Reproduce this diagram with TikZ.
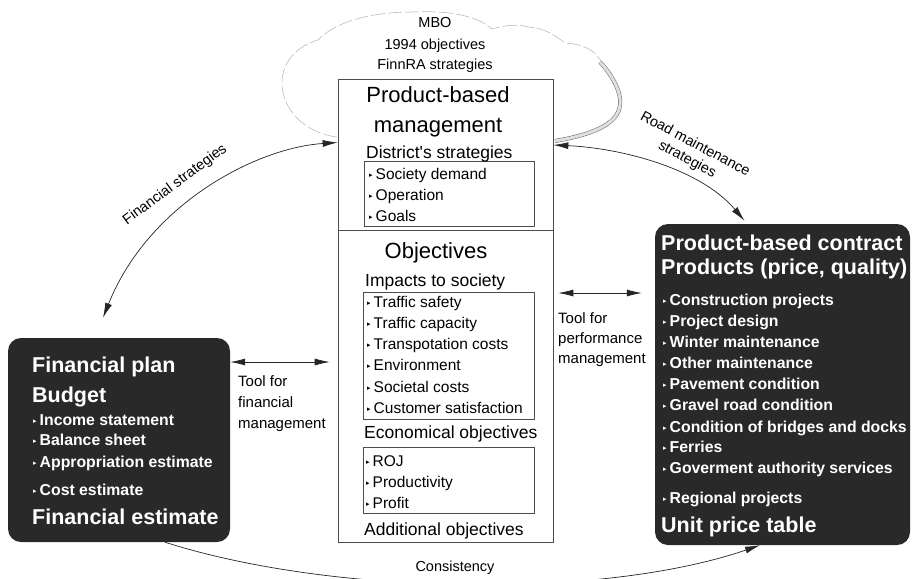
\documentclass[tikz,border=0pt]{standalone}
\usepackage{fontspec}
\setmainfont{Liberation Sans}
\newfontfamily\symfont{DejaVu Sans}
\usetikzlibrary{arrows.meta}

% small triangle in front of each list entry
\newcommand{\bulletmark}{{\symfont\fontsize{7}{7}\selectfont\raisebox{1.2pt}{▸}}\hspace{3pt}}

\begin{document}
\begin{tikzpicture}[x=1pt,y=-1pt,
  panel/.style={draw=black!70,line width=0.7pt,fill=white,inner sep=0pt},
  listbox/.style={draw=black!70,line width=0.6pt,inner sep=0pt},
  darkbox/.style={fill=black!84,rounded corners=13pt,inner sep=0pt},
  title/.style={font=\fontsize{22}{24}\selectfont,anchor=base,inner sep=0pt},
  subhead/.style={font=\fontsize{17.5}{20}\selectfont,anchor=base west,inner sep=0pt},
  entry/.style={font=\fontsize{15.5}{18}\selectfont,anchor=base west,inner sep=0pt},
  darktitle/.style={font=\bfseries\fontsize{21.5}{24}\selectfont,text=white,anchor=base west,inner sep=0pt},
  darkentry/.style={font=\bfseries\fontsize{15.8}{18}\selectfont,text=white,anchor=base west,inner sep=0pt},
  note/.style={font=\fontsize{15}{18}\selectfont,anchor=base west,inner sep=0pt},
  tag/.style={font=\fontsize{14.5}{17}\selectfont,inner sep=0pt},
  link/.style={line width=0.7pt,black!85},
  twoway/.style={link,{Latex[length=15pt,width=7pt]}-{Latex[length=15pt,width=7pt]}},
  oneway/.style={link,-{Latex[length=15pt,width=7pt]}},
  cloudline/.style={gray!60,line width=0.5pt,dash pattern=on 14pt off 3pt}]

  \fill[white] (0,0) rectangle (912,578);
  \useasboundingbox (0,0) rectangle (912,578);

  % cloud behind the management box
  \draw[cloudline] (337,137) .. controls (305,133) and (283,110) .. (282,85)
    .. controls (281,60) and (300,45) .. (318,40)
    .. controls (335,22) and (370,12) .. (413,12)
    .. controls (455,10) and (480,18) .. (492,29)
    .. controls (505,25) and (518,24) .. (528,27)
    .. controls (545,28) and (556,36) .. (565,43)
    .. controls (585,44) and (598,52) .. (602,64);
  \draw[black!60,line width=0.5pt,double=gray!25,double distance=3pt]
    (600,62) .. controls (608,70) and (622,90) .. (620,105)
    .. controls (618,125) and (590,135) .. (555,141);
  \node[tag,anchor=base] (mbo) at (435,28) {MBO};
  \node[tag,anchor=base] (goals94) at (435,50) {1994 objectives};
  \node[tag,anchor=base] (finnra) at (435,70) {FinnRA strategies};

  % management box
  \node[panel,minimum width=215pt,minimum height=151pt] (pbm) at (445.5,154.5) {};
  \node[panel,minimum width=215pt,minimum height=312pt] (obj) at (445.5,386) {};
  \node[listbox,minimum width=170pt,minimum height=65pt] (strat) at (449,193.5) {};
  \node[listbox,minimum width=171pt,minimum height=127pt] (impact) at (448.5,355.5) {};
  \node[listbox,minimum width=171pt,minimum height=66pt] (econ) at (448.5,480) {};

  \node[title] (pbmA) at (438,102) {Product-based};
  \node[title] (pbmB) at (438,132) {management};
  \node[subhead] (distr) at (366,158) {District\textquotesingle s strategies};
  \node[entry] (soc) at (369,179) {\bulletmark Society demand};
  \node[entry] (oper) at (369,200) {\bulletmark Operation};
  \node[entry] (goal) at (369,221) {\bulletmark Goals};

  \node[title] (objA) at (436,258) {Objectives};
  \node[subhead] (imph) at (365,286) {Impacts to society};
  \node[entry] (safe) at (367,307) {\bulletmark Traffic safety};
  \node[entry] (capa) at (367,328) {\bulletmark Traffic capacity};
  \node[entry] (trans) at (367,349) {\bulletmark Transpotation costs};
  \node[entry] (envi) at (367,370) {\bulletmark Environment};
  \node[entry] (socc) at (367,392) {\bulletmark Societal costs};
  \node[entry] (cust) at (367,413) {\bulletmark Customer satisfaction};
  \node[subhead] (ecoh) at (364,438) {Economical objectives};
  \node[entry] (roj) at (366,466) {\bulletmark ROJ};
  \node[entry] (prod) at (366,487) {\bulletmark Productivity};
  \node[entry] (prof) at (366,508) {\bulletmark Profit};
  \node[subhead] (addh) at (364,535) {Additional objectives};

  % financial plan
  \node[darkbox,minimum width=222pt,minimum height=204pt] (fin) at (119,440) {};
  \node[darktitle] (finA) at (32,372) {Financial plan};
  \node[darktitle] (finB) at (32,402) {Budget};
  \node[darkentry] (inc) at (33,425) {\bulletmark Income statement};
  \node[darkentry] (bal) at (33,445) {\bulletmark Balance sheet};
  \node[darkentry] (appr) at (33,467) {\bulletmark Appropriation estimate};
  \node[darkentry] (cost) at (33,495) {\bulletmark Cost estimate};
  \node[darktitle] (finC) at (32,524) {Financial estimate};

  % product-based contract
  \node[darkbox,minimum width=255pt,minimum height=321pt] (con) at (782.5,384.5) {};
  \node[darktitle] (conA) at (661,250) {Product-based contract};
  \node[darktitle] (conB) at (661,274) {Products (price, quality)};
  \node[darkentry] (p1) at (663,305) {\bulletmark Construction projects};
  \node[darkentry] (p2) at (663,326) {\bulletmark Project design};
  \node[darkentry] (p3) at (663,347) {\bulletmark Winter maintenance};
  \node[darkentry] (p4) at (663,368) {\bulletmark Other maintenance};
  \node[darkentry] (p5) at (663,389) {\bulletmark Pavement condition};
  \node[darkentry] (p6) at (663,410) {\bulletmark Gravel road condition};
  \node[darkentry] (p7) at (663,432) {\bulletmark Condition of bridges and docks};
  \node[darkentry] (p8) at (663,452) {\bulletmark Ferries};
  \node[darkentry] (p9) at (663,473) {\bulletmark Goverment authority services};
  \node[darkentry] (p10) at (663,503) {\bulletmark Regional projects};
  \node[darktitle] (conC) at (661,532) {Unit price table};

  % tools between the boxes
  \draw[twoway,shorten >=8pt] ([yshift=78pt]fin.east) -- ([yshift=24pt]obj.west);
  \node[note] (ftA) at (238,386) {Tool for};
  \node[note] (ftB) at (238,407) {financial};
  \node[note] (ftC) at (238,428) {management};
  \draw[twoway,shorten <=5pt,shorten >=13pt] ([yshift=93pt]obj.east) -- ([yshift=91.5pt]con.west);
  \node[note] (ptA) at (558,323) {Tool for};
  \node[note] (ptB) at (558,343) {performance};
  \node[note] (ptC) at (558,363) {management};

  % strategies and consistency
  \draw[twoway] ([yshift=12pt]pbm.west) .. controls (255,148) and (148,205) .. ([xshift=-16pt,yshift=20pt]fin.north);
  \node[tag,rotate=36.5] (fstr) at (175,185) {Financial strategies};
  \draw[twoway] ([yshift=9.5pt]pbm.east) .. controls (620,148) and (700,168) .. ([xshift=-38pt,yshift=3pt]con.north);
  \node[tag,rotate=-28,align=center] (rstr) at (691,152) {Road maintenance\\strategies};
  \draw[oneway] ([xshift=46pt]fin.south) .. controls (330,595) and (600,600) .. ([xshift=-22.5pt]con.south);
  \node[tag] (cons) at (455,568) {Consistency};
\end{tikzpicture}
\end{document}
